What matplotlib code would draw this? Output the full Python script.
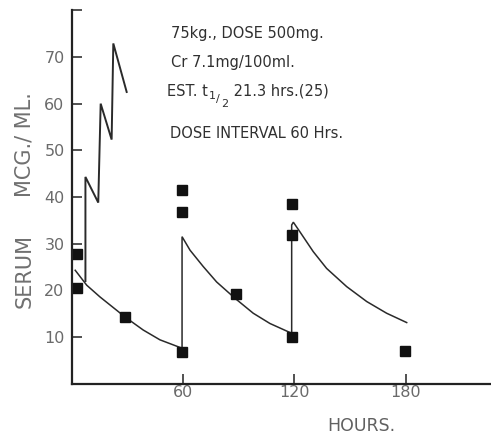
import matplotlib
matplotlib.use("Agg")
import matplotlib.pyplot as plt
from matplotlib.transforms import Affine2D

# Measured serum levels (hours after first dose, mcg/ml)
sample_hours = [3, 3, 28.8, 59.5, 59.5, 59.5, 88.5, 118.5, 118.5, 118.5, 179.5]
sample_values = [27.8, 20.6, 14.3, 6.8, 36.7, 41.5, 19.2, 10.0, 31.8, 38.6, 7.0]

# Predicted level curve with a dose every 60 hours
curve_hours = [2.0, 8.2, 15.3, 28.8, 38.6, 47.6, 59.5,
               59.5, 63.8, 70.9, 78.1, 88.0, 97.8, 106.8, 118.5,
               118.5, 119.4, 123.0, 130.1, 137.3, 148.1, 158.9, 169.6, 180.4]
curve_values = [24.3, 21.1, 18.6, 14.3, 11.5, 9.4, 7.6,
                31.5, 28.6, 25.1, 21.8, 18.3, 15.1, 12.9, 10.8,
                34.0, 34.6, 32.5, 28.3, 24.7, 20.8, 17.6, 15.1, 13.1]

# Accumulation with repeated early dosing
stack_hours = [7.5, 7.5, 14.4, 15.7, 21.6, 22.5, 29.7]
stack_values = [22.0, 44.3, 38.8, 60.0, 52.3, 72.9, 62.5]

x_ticks = [60, 120, 180]
y_ticks = [10, 20, 30, 40, 50, 60, 70, 80]
y_tick_labels = ["10", "20", "30", "40", "50", "60", "70", ""]

note_lines = ["75kg., DOSE 500mg.", "Cr 7.1mg/100ml.", "DOSE INTERVAL 60 Hrs."]
half_life_parts = ["EST. t", "1", "/", "2", " 21.3 hrs.(25)"]

W, H = 491, 434
fig = plt.figure(figsize=(W / 100, H / 100), dpi=100)
fig.patch.set_facecolor("white")

x0_px, y0_px, ytop_px = 71.5, 383.7, 10.3
ax = fig.add_axes([x0_px / W, 1 - y0_px / H, (W - x0_px) / W, (y0_px - ytop_px) / H])
ax.set_xlim(0, (W - x0_px) / 1.858)
ax.set_ylim(0, 80)

for s in ("top", "right"):
    ax.spines[s].set_visible(False)
for s in ("left", "bottom"):
    ax.spines[s].set_linewidth(1.6)
    ax.spines[s].set_color("#222222")

ax.plot(curve_hours, curve_values, color="#2a2a2a", lw=1.1, solid_joinstyle="miter")
ax.plot(stack_hours, stack_values, color="#2a2a2a", lw=1.4, solid_joinstyle="miter")
ax.plot(sample_hours, sample_values, ls="none", marker="s", ms=7.3,
        color="#111111", mec="#111111")

ax.set_xticks(x_ticks)
ax.set_xticklabels([str(t) for t in x_ticks])
ax.set_yticks(y_ticks)
ax.set_yticklabels(y_tick_labels)
ax.tick_params(axis="both", direction="in", length=7, width=1.2, color="#333333",
               labelcolor="#6a6a6a", labelsize=11.5)
ax.tick_params(axis="x", pad=1)
ax.tick_params(axis="y", pad=5)

# Pixel coordinates measured from the top-left corner
px = Affine2D().scale(1, -1).translate(0, H)

# Axis titles
fig.text(25, 271, "SERUM", rotation=90, ha="center", va="center",
         fontsize=15, color="#707070", transform=px)
fig.text(25, 144.5, "MCG./ ML.", rotation=90, ha="center", va="center",
         fontsize=15, color="#707070", transform=px)
fig.text(361, 426, "HOURS.", ha="center", va="center",
         fontsize=12.5, color="#606060", transform=px)

# Patient annotations
note_color = "#303030"
for (x, y), txt in zip([(171, 38), (171, 67), (170, 138)], note_lines):
    fig.text(x, y, txt, ha="left", va="baseline", fontsize=10.5,
             color=note_color, transform=px)

# Half-life line with a stepped 1/2 subscript
fig.canvas.draw()
renderer = fig.canvas.get_renderer()
x = 167
drops = [0, 3, 6, 11, 0]
sizes = [10.5, 8, 8, 8, 10.5]
for part, dy, size in zip(half_life_parts, drops, sizes):
    t = fig.text(x, 96 + dy, part, ha="left", va="baseline", fontsize=size,
                 color=note_color, transform=px)
    x += t.get_window_extent(renderer).width + 0.8

fig.savefig("out.png", dpi=100, facecolor="white")
